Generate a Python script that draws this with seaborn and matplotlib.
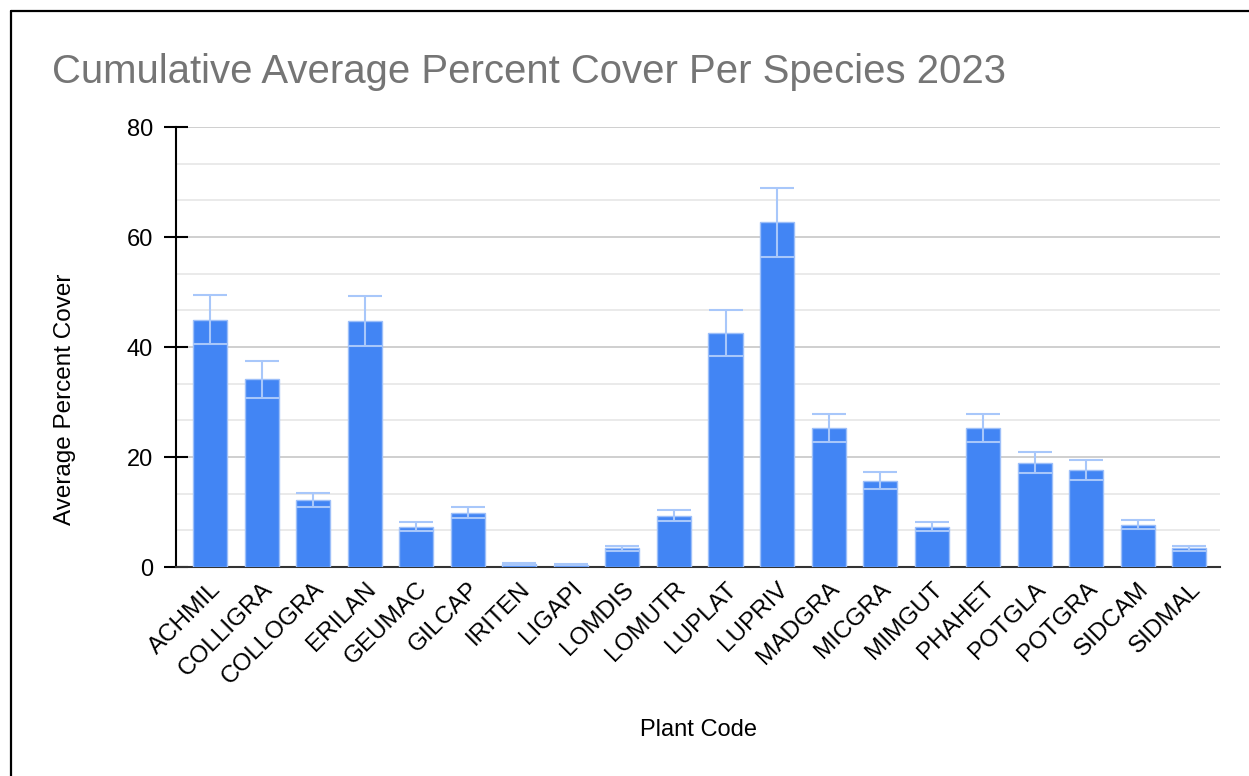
import matplotlib
matplotlib.use("Agg")
import matplotlib.pyplot as plt
import seaborn as sns
import numpy as np
from matplotlib.lines import Line2D
from matplotlib.ticker import MultipleLocator

# данные
codes = ['ACHMIL', 'COLLIGRA', 'COLLOGRA', 'ERILAN', 'GEUMAC', 'GILCAP', 'IRITEN',
         'LIGAPI', 'LOMDIS', 'LOMUTR', 'LUPLAT', 'LUPRIV', 'MADGRA', 'MICGRA',
         'MIMGUT', 'PHAHET', 'POTGLA', 'POTGRA', 'SIDCAM', 'SIDMAL']
means = [45.0, 34.1, 12.2, 44.7, 7.3, 9.9, 0.5, 0.4, 3.4, 9.3,
         42.5, 62.7, 25.3, 15.7, 7.3, 25.3, 19.0, 17.6, 7.7, 3.4]
errs = [4.5, 3.4, 1.3, 4.5, 0.8, 1.0, 0.15, 0.1, 0.4, 1.0,
        4.2, 6.3, 2.5, 1.6, 0.8, 2.5, 1.9, 1.8, 0.85, 0.4]

title = 'Cumulative Average Percent Cover Per Species 2023'
x_label = 'Plant Code'
y_label = 'Average Percent Cover'

sns.set_style('white')
plt.rcParams['font.family'] = ['Liberation Sans', 'DejaVu Sans']
plt.rcParams['text.color'] = 'black'
plt.rcParams['axes.labelcolor'] = 'black'
plt.rcParams['xtick.color'] = 'black'
plt.rcParams['ytick.color'] = 'black'

fig = plt.figure(figsize=(12.49, 7.76), dpi=100)
ax = fig.add_axes([0.141, 0.2693, 0.836, 0.567])

# столбцы
sns.barplot(x=codes, y=means, color='#4285F4', width=0.66, saturation=1,
            edgecolor='#9dbff9', linewidth=1, ax=ax, zorder=3)
# усы погрешностей
ax.errorbar(np.arange(len(codes)), means, yerr=errs, fmt='none',
            ecolor='#a8c7fa', elinewidth=1.5, capsize=12, capthick=1.5, zorder=4)

ax.set_xlim(-0.66, 19.6)
ax.set_ylim(0, 80)
ax.yaxis.set_major_locator(MultipleLocator(20))
ax.yaxis.set_minor_locator(MultipleLocator(20 / 3))
ax.grid(which='major', axis='y', color='#cccccc', linewidth=1.3, zorder=0)
ax.grid(which='minor', axis='y', color='#e6e6e6', linewidth=1.2, zorder=0)
ax.set_axisbelow(True)

for s in ['top', 'right']:
    ax.spines[s].set_visible(False)
ax.spines['left'].set_color('black')
ax.spines['left'].set_linewidth(1.5)
ax.spines['bottom'].set_color('#333333')
ax.spines['bottom'].set_linewidth(1.5)

ax.tick_params(axis='y', which='major', direction='inout', length=17, width=1.5,
               color='black', labelsize=17, pad=8, left=True)
ax.tick_params(axis='y', which='minor', length=0)
ax.tick_params(axis='x', length=0, labelsize=17.5, pad=8)
plt.setp(ax.get_xticklabels(), rotation=45, ha='right', rotation_mode='anchor')

ax.set_xlabel(x_label, fontsize=17)
ax.set_ylabel(y_label, fontsize=17.5)
ax.xaxis.set_label_coords(0.5, -0.345)
ax.yaxis.set_label_coords(-0.096, 0.382)

fig.text(0.0416, 0.893, title, fontsize=28.9, color='#757575', va='baseline', ha='left')

# рамка сверху и слева
fig.add_artist(Line2D([11 / 1249, 1], [1 - 11 / 776, 1 - 11 / 776], color='black', linewidth=1.6))
fig.add_artist(Line2D([11 / 1249, 11 / 1249], [0, 1 - 11 / 776], color='black', linewidth=1.6))

fig.savefig('out.png', dpi=100)
